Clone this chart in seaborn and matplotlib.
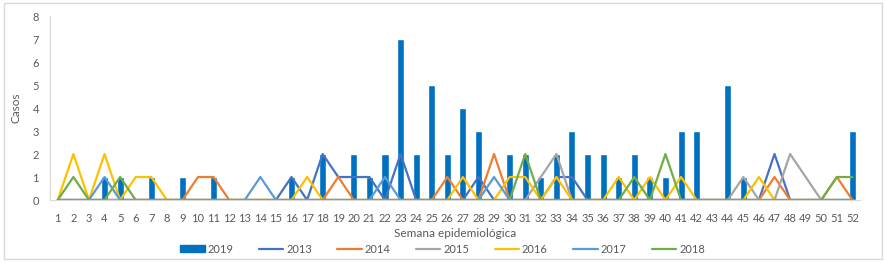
import pandas as pd
import seaborn as sns
import matplotlib.pyplot as plt
from matplotlib.patches import Rectangle
from matplotlib.lines import Line2D

# Semanas epidemiológicas 1..52
semanas = list(range(1, 53))

# Casos por semana (barras 2019)
casos_2019 = [0, 0, 0, 1, 1, 0, 1, 0, 1, 0, 1, 0, 0, 0, 0, 1, 0, 2, 0, 2,
              1, 2, 7, 2, 5, 2, 4, 3, 0, 2, 2, 1, 2, 3, 2, 2, 1, 2, 1, 1,
              3, 3, 0, 5, 1, 0, 0, 0, 0, 0, 0, 3]

# Casos por semana de años anteriores (líneas)
casos_2013 = [0, 0, 0, 0, 0, 0, 0, 0, 0, 0, 0, 0, 0, 0, 0, 1, 0, 2, 1, 1,
              1, 0, 2, 0, 0, 0, 0, 1, 0, 0, 0, 0, 1, 1, 0, 0, 0, 0, 0, 0,
              0, 0, 0, 0, 0, 0, 2, 0, 0, 0, 0, 0]
casos_2014 = [0, 0, 0, 0, 0, 0, 0, 0, 0, 1, 1, 0, 0, 0, 0, 0, 0, 0, 1, 0,
              0, 0, 0, 0, 0, 1, 0, 0, 2, 0, 0, 0, 0, 0, 0, 0, 0, 0, 0, 0,
              0, 0, 0, 0, 0, 0, 1, 0, 0, 0, 1, 0]
casos_2015 = [0, 0, 0, 0, 0, 0, 0, 0, 0, 0, 0, 0, 0, 0, 0, 0, 0, 0, 0, 0,
              0, 0, 0, 0, 0, 0, 0, 0, 0, 0, 0, 1, 2, 0, 0, 0, 0, 0, 0, 0,
              0, 0, 0, 0, 1, 0, 0, 2, 1, 0, 0, 0]
casos_2016 = [0, 2, 0, 2, 0, 1, 1, 0, 0, 0, 0, 0, 0, 0, 0, 0, 1, 0, 0, 0,
              0, 0, 0, 0, 0, 0, 1, 0, 0, 1, 1, 0, 1, 0, 0, 0, 1, 0, 1, 0,
              1, 0, 0, 0, 0, 1, 0, 0, 0, 0, 0, 0]
casos_2017 = [0, 0, 0, 1, 0, 0, 0, 0, 0, 0, 0, 0, 0, 1, 0, 0, 0, 0, 0, 0,
              0, 1, 0, 0, 0, 0, 0, 0, 1, 0, 0, 0, 0, 0, 0, 0, 0, 0, 0, 0,
              0, 0, 0, 0, 0, 0, 0, 0, 0, 0, 0, 0]
casos_2018 = [0, 1, 0, 0, 1, 0, 0, 0, 0, 0, 0, 0, 0, 0, 0, 0, 0, 0, 0, 0,
              0, 0, 0, 0, 0, 0, 0, 0, 0, 0, 2, 0, 0, 0, 0, 0, 0, 1, 0, 2,
              0, 0, 0, 0, 0, 0, 0, 0, 0, 0, 1, 1]

anos = ["2013", "2014", "2015", "2016", "2017", "2018"]
series = [casos_2013, casos_2014, casos_2015, casos_2016, casos_2017, casos_2018]
colores = ["#4472C4", "#ED7D31", "#A5A5A5", "#FFC000", "#5B9BD5", "#70AD47"]
color_2019 = "#0070C0"

sns.set_style("white")
plt.rcParams['font.family'] = ['Lato', 'DejaVu Sans']
gris = "#595959"

fig = plt.figure(figsize=(8.85, 2.63), dpi=100)
ax = fig.add_axes([0.0565, 0.2395, 0.9155, 0.6995])

df_bar = pd.DataFrame({"semana": semanas, "casos": casos_2019})
sns.barplot(data=df_bar, x="semana", y="casos", native_scale=True, width=0.45,
            color=color_2019, saturation=1, ax=ax)

lineas = pd.concat([pd.DataFrame({"semana": semanas, "casos": v, "ano": a})
                    for a, v in zip(anos, series)])
sns.lineplot(data=lineas, x="semana", y="casos", hue="ano", hue_order=anos,
             palette=colores, linewidth=1.6, ax=ax, legend=False)

ax.set_xlim(0.5, 52.5)
ax.set_ylim(0, 8)
ax.set_xticks(semanas)
ax.set_xticklabels([str(s) for s in semanas])
ax.set_yticks(range(0, 9))
ax.tick_params(axis="both", length=0, labelsize=8, labelcolor=gris)
ax.tick_params(axis="x", pad=9)
ax.tick_params(axis="y", pad=8)
ax.set_xlabel("Semana epidemiológica", fontsize=8.5, color=gris, labelpad=3)
ax.set_ylabel("Casos", fontsize=8.5, color=gris, labelpad=8)

for s in ["top", "right"]:
    ax.spines[s].set_visible(False)
ax.spines["left"].set_color("#D9D9D9")
ax.spines["bottom"].set_color("#D9D9D9")

handles = [Rectangle((0, 0), 1, 1, color=color_2019)]
handles += [Line2D([0], [0], color=c, lw=1.6) for c in colores]
fig.legend(handles, ["2019"] + anos, loc="center", bbox_to_anchor=(0.5, 0.053),
           ncol=7, frameon=False, fontsize=8, labelcolor=gris,
           handlelength=2.2, handleheight=0.5, handletextpad=0.25,
           columnspacing=2.3)

fig.add_artist(Rectangle((0.004, 0.015), 0.993, 0.975, transform=fig.transFigure,
                         fill=False, edgecolor="#D9D9D9", lw=1))

fig.savefig("out.png", dpi=100)
